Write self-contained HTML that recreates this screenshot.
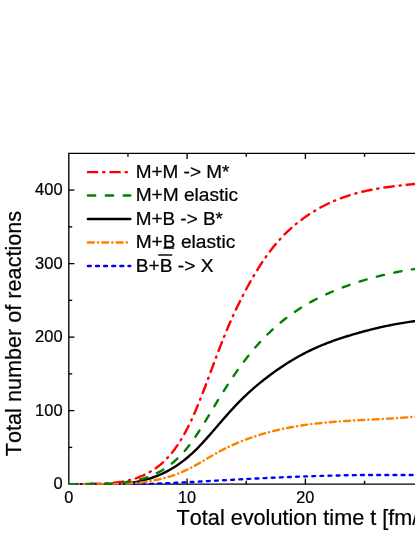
<!DOCTYPE html>
<html><head><meta charset="utf-8"><title>chart</title>
<style>
html,body{margin:0;padding:0;background:#fff;}
body{width:415px;height:537px;overflow:hidden;}
svg{display:block;will-change:transform;}
text{font-family:"Liberation Sans",sans-serif;fill:#000;font-kerning:none;stroke:#000;stroke-width:0.22px;}
.tk{font-size:16.3px;}
.lg{font-size:18.4px;}
.ti{font-size:21.65px;}
</style></head><body>
<svg width="415" height="537" viewBox="0 0 415 537">
<rect width="415" height="537" fill="#fff"/>

<g stroke="#000" stroke-width="1.35" fill="none">
<path d="M420 153.35 H68.8 V484.15 H420"/>
<line x1="68.8" y1="447.39" x2="72.2" y2="447.39"/><line x1="68.8" y1="410.63" x2="74.39999999999999" y2="410.63"/><line x1="68.8" y1="373.87" x2="72.2" y2="373.87"/><line x1="68.8" y1="337.11" x2="74.39999999999999" y2="337.11"/><line x1="68.8" y1="300.35" x2="72.2" y2="300.35"/><line x1="68.8" y1="263.59" x2="74.39999999999999" y2="263.59"/><line x1="68.8" y1="226.83" x2="72.2" y2="226.83"/><line x1="68.8" y1="190.07" x2="74.39999999999999" y2="190.07"/><line x1="127.95" y1="484.15" x2="127.95" y2="480.75"/><line x1="127.95" y1="153.35" x2="127.95" y2="156.75"/><line x1="187.10" y1="484.15" x2="187.10" y2="478.54999999999995"/><line x1="187.10" y1="153.35" x2="187.10" y2="158.95"/><line x1="246.25" y1="484.15" x2="246.25" y2="480.75"/><line x1="246.25" y1="153.35" x2="246.25" y2="156.75"/><line x1="305.40" y1="484.15" x2="305.40" y2="478.54999999999995"/><line x1="305.40" y1="153.35" x2="305.40" y2="158.95"/><line x1="364.55" y1="484.15" x2="364.55" y2="480.75"/><line x1="364.55" y1="153.35" x2="364.55" y2="156.75"/>
</g>
<defs><clipPath id="cp"><rect x="68.1" y="150" width="360" height="334.85"/></clipPath></defs>
<g fill="none" stroke-width="2.4" stroke-linejoin="round" stroke-linecap="round" clip-path="url(#cp)">
<path d="M68.9 484.15 L70.4 484.15 L71.9 484.15 L73.4 484.15 L74.9 484.15 L76.4 484.11 L77.9 484.05 L79.4 484.00 L80.9 483.96 L82.4 483.93 L83.9 483.90 L85.4 483.87 L86.9 483.85 L88.4 483.83 L89.9 483.81 L91.4 483.79 L92.9 483.77 L94.4 483.75 L95.9 483.72 L97.4 483.69 L98.9 483.66 L100.4 483.62 L101.9 483.57 L103.4 483.51 L104.9 483.45 L106.4 483.37 L107.9 483.29 L109.4 483.19 L110.9 483.07 L112.4 482.95 L113.9 482.80 L115.4 482.64 L116.9 482.47 L118.4 482.27 L119.9 482.06 L121.4 481.82 L122.9 481.56 L124.4 481.28 L125.9 480.98 L127.4 480.65 L128.9 480.29 L130.4 479.91 L131.9 479.50 L133.4 479.06 L134.9 478.59 L136.4 478.09 L137.9 477.55 L139.4 476.98 L140.9 476.38 L142.4 475.75 L143.9 475.07 L145.4 474.36 L146.9 473.61 L148.4 472.82 L149.9 471.98 L151.4 471.09 L152.9 470.16 L154.4 469.17 L155.9 468.12 L157.4 467.02 L158.9 465.86 L160.4 464.63 L161.9 463.33 L163.4 461.96 L164.9 460.52 L166.4 459.01 L167.9 457.42 L169.4 455.74 L170.9 453.98 L172.4 452.14 L173.9 450.20 L175.4 448.18 L176.9 446.05 L178.4 443.83 L179.9 441.51 L181.4 439.09 L182.9 436.55 L184.4 433.92 L185.9 431.17 L187.4 428.31 L188.9 425.34 L190.4 422.26 L191.9 419.07 L193.4 415.77 L194.9 412.36 L196.4 408.84 L197.9 405.23 L199.4 401.53 L200.9 397.76 L202.4 393.91 L203.9 390.00 L205.4 386.04 L206.9 382.04 L208.4 378.02 L209.9 373.98 L211.4 369.94 L212.9 365.91 L214.4 361.89 L215.9 357.89 L217.4 353.92 L218.9 349.99 L220.4 346.10 L221.9 342.26 L223.4 338.47 L224.9 334.75 L226.4 331.09 L227.9 327.50 L229.4 324.00 L230.9 320.57 L232.4 317.21 L233.9 313.93 L235.4 310.72 L236.9 307.57 L238.4 304.47 L239.9 301.44 L241.4 298.45 L242.9 295.51 L244.4 292.63 L245.9 289.79 L247.4 287.00 L248.9 284.27 L250.4 281.58 L251.9 278.95 L253.4 276.36 L254.9 273.83 L256.4 271.35 L257.9 268.93 L259.4 266.55 L260.9 264.23 L262.4 261.96 L263.9 259.74 L265.4 257.57 L266.9 255.46 L268.4 253.40 L269.9 251.40 L271.4 249.45 L272.9 247.55 L274.4 245.70 L275.9 243.91 L277.4 242.16 L278.9 240.46 L280.4 238.80 L281.9 237.19 L283.4 235.63 L284.9 234.11 L286.4 232.63 L287.9 231.18 L289.4 229.78 L290.9 228.42 L292.4 227.09 L293.9 225.80 L295.4 224.54 L296.9 223.31 L298.4 222.12 L299.9 220.95 L301.4 219.82 L302.9 218.71 L304.4 217.63 L305.9 216.57 L307.4 215.54 L308.9 214.54 L310.4 213.55 L311.9 212.60 L313.4 211.66 L314.9 210.75 L316.4 209.86 L317.9 208.99 L319.4 208.14 L320.9 207.32 L322.4 206.52 L323.9 205.73 L325.4 204.97 L326.9 204.23 L328.4 203.51 L329.9 202.81 L331.4 202.12 L332.9 201.46 L334.4 200.81 L335.9 200.19 L337.4 199.58 L338.9 198.98 L340.4 198.41 L341.9 197.85 L343.4 197.31 L344.9 196.78 L346.4 196.27 L347.9 195.77 L349.4 195.29 L350.9 194.83 L352.4 194.38 L353.9 193.94 L355.4 193.52 L356.9 193.11 L358.4 192.71 L359.9 192.33 L361.4 191.95 L362.9 191.59 L364.4 191.25 L365.9 190.91 L367.4 190.58 L368.9 190.27 L370.4 189.96 L371.9 189.67 L373.4 189.38 L374.9 189.10 L376.4 188.84 L377.9 188.58 L379.4 188.33 L380.9 188.08 L382.4 187.85 L383.9 187.62 L385.4 187.40 L386.9 187.19 L388.4 186.98 L389.9 186.77 L391.4 186.58 L392.9 186.38 L394.4 186.20 L395.9 186.01 L397.4 185.84 L398.9 185.66 L400.4 185.49 L401.9 185.32 L403.4 185.16 L404.9 184.99 L406.4 184.83 L407.9 184.67 L409.4 184.51 L410.9 184.36 L412.4 184.20 L413.9 184.05 L415.4 183.89 L416.9 183.73 L418.4 183.58 L419.9 183.42 L421.4 183.27 L422.9 183.14" stroke="#ff0000" stroke-dasharray="9.4 5.87 1.2 6.0"/>
<path d="M68.9 484.15 L70.4 484.15 L71.9 484.15 L73.4 484.15 L74.9 484.15 L76.4 484.15 L77.9 484.15 L79.4 484.15 L80.9 484.15 L82.4 484.15 L83.9 484.15 L85.4 484.15 L86.9 484.15 L88.4 484.15 L89.9 484.15 L91.4 484.15 L92.9 484.15 L94.4 484.15 L95.9 484.15 L97.4 484.15 L98.9 484.15 L100.4 484.15 L101.9 484.15 L103.4 484.15 L104.9 484.15 L106.4 484.15 L107.9 484.15 L109.4 484.15 L110.9 484.15 L112.4 484.15 L113.9 484.15 L115.4 484.15 L116.9 484.15 L118.4 484.15 L119.9 484.08 L121.4 483.96 L122.9 483.82 L124.4 483.67 L125.9 483.51 L127.4 483.33 L128.9 483.13 L130.4 482.92 L131.9 482.70 L133.4 482.45 L134.9 482.19 L136.4 481.91 L137.9 481.62 L139.4 481.30 L140.9 480.96 L142.4 480.61 L143.9 480.23 L145.4 479.83 L146.9 479.41 L148.4 478.96 L149.9 478.50 L151.4 478.00 L152.9 477.49 L154.4 476.95 L155.9 476.38 L157.4 475.79 L158.9 475.17 L160.4 474.52 L161.9 473.85 L163.4 473.14 L164.9 472.41 L166.4 471.65 L167.9 470.86 L169.4 470.03 L170.9 469.18 L172.4 468.29 L173.9 467.37 L175.4 466.42 L176.9 465.44 L178.4 464.42 L179.9 463.36 L181.4 462.27 L182.9 461.15 L184.4 459.98 L185.9 458.78 L187.4 457.55 L188.9 456.27 L190.4 454.96 L191.9 453.60 L193.4 452.21 L194.9 450.78 L196.4 449.30 L197.9 447.79 L199.4 446.25 L200.9 444.67 L202.4 443.06 L203.9 441.43 L205.4 439.77 L206.9 438.09 L208.4 436.39 L209.9 434.68 L211.4 432.96 L212.9 431.23 L214.4 429.49 L215.9 427.75 L217.4 426.00 L218.9 424.26 L220.4 422.52 L221.9 420.78 L223.4 419.05 L224.9 417.34 L226.4 415.63 L227.9 413.93 L229.4 412.26 L230.9 410.60 L232.4 408.96 L233.9 407.34 L235.4 405.74 L236.9 404.17 L238.4 402.63 L239.9 401.11 L241.4 399.61 L242.9 398.14 L244.4 396.69 L245.9 395.26 L247.4 393.86 L248.9 392.48 L250.4 391.12 L251.9 389.78 L253.4 388.46 L254.9 387.16 L256.4 385.88 L257.9 384.62 L259.4 383.38 L260.9 382.16 L262.4 380.95 L263.9 379.77 L265.4 378.59 L266.9 377.44 L268.4 376.30 L269.9 375.17 L271.4 374.07 L272.9 372.97 L274.4 371.89 L275.9 370.82 L277.4 369.77 L278.9 368.74 L280.4 367.71 L281.9 366.71 L283.4 365.71 L284.9 364.73 L286.4 363.77 L287.9 362.82 L289.4 361.88 L290.9 360.96 L292.4 360.06 L293.9 359.17 L295.4 358.29 L296.9 357.43 L298.4 356.58 L299.9 355.75 L301.4 354.93 L302.9 354.12 L304.4 353.34 L305.9 352.56 L307.4 351.80 L308.9 351.06 L310.4 350.33 L311.9 349.61 L313.4 348.91 L314.9 348.23 L316.4 347.56 L317.9 346.90 L319.4 346.25 L320.9 345.62 L322.4 345.00 L323.9 344.39 L325.4 343.80 L326.9 343.21 L328.4 342.64 L329.9 342.08 L331.4 341.52 L332.9 340.98 L334.4 340.45 L335.9 339.92 L337.4 339.41 L338.9 338.90 L340.4 338.40 L341.9 337.91 L343.4 337.43 L344.9 336.95 L346.4 336.48 L347.9 336.02 L349.4 335.56 L350.9 335.10 L352.4 334.66 L353.9 334.21 L355.4 333.78 L356.9 333.34 L358.4 332.92 L359.9 332.50 L361.4 332.08 L362.9 331.67 L364.4 331.26 L365.9 330.87 L367.4 330.47 L368.9 330.08 L370.4 329.70 L371.9 329.33 L373.4 328.95 L374.9 328.59 L376.4 328.23 L377.9 327.88 L379.4 327.53 L380.9 327.19 L382.4 326.85 L383.9 326.53 L385.4 326.20 L386.9 325.89 L388.4 325.57 L389.9 325.27 L391.4 324.97 L392.9 324.68 L394.4 324.39 L395.9 324.12 L397.4 323.84 L398.9 323.58 L400.4 323.32 L401.9 323.06 L403.4 322.82 L404.9 322.58 L406.4 322.34 L407.9 322.12 L409.4 321.90 L410.9 321.68 L412.4 321.48 L413.9 321.28 L415.4 321.09 L416.9 320.90 L418.4 320.72 L419.9 320.55 L421.4 320.40 L422.9 320.27" stroke="#000000"/>
<path d="M68.9 484.15 L70.4 484.15 L71.9 484.15 L73.4 484.15 L74.9 484.15 L76.4 484.15 L77.9 484.15 L79.4 484.15 L80.9 484.15 L82.4 484.15 L83.9 484.15 L85.4 484.15 L86.9 484.15 L88.4 484.15 L89.9 484.15 L91.4 484.15 L92.9 484.15 L94.4 484.15 L95.9 484.15 L97.4 484.15 L98.9 484.15 L100.4 484.15 L101.9 484.15 L103.4 484.15 L104.9 484.15 L106.4 484.15 L107.9 484.15 L109.4 484.15 L110.9 484.15 L112.4 484.15 L113.9 484.15 L115.4 484.15 L116.9 484.15 L118.4 484.15 L119.9 484.15 L121.4 484.15 L122.9 484.15 L124.4 484.15 L125.9 484.15 L127.4 484.15 L128.9 484.15 L130.4 484.15 L131.9 484.15 L133.4 484.15 L134.9 484.15 L136.4 484.15 L137.9 484.15 L139.4 484.15 L140.9 484.15 L142.4 484.15 L143.9 484.11 L145.4 484.06 L146.9 484.00 L148.4 483.95 L149.9 483.89 L151.4 483.84 L152.9 483.78 L154.4 483.72 L155.9 483.66 L157.4 483.60 L158.9 483.54 L160.4 483.47 L161.9 483.41 L163.4 483.34 L164.9 483.28 L166.4 483.21 L167.9 483.14 L169.4 483.07 L170.9 483.01 L172.4 482.94 L173.9 482.86 L175.4 482.79 L176.9 482.72 L178.4 482.65 L179.9 482.57 L181.4 482.50 L182.9 482.42 L184.4 482.35 L185.9 482.27 L187.4 482.19 L188.9 482.12 L190.4 482.04 L191.9 481.96 L193.4 481.88 L194.9 481.80 L196.4 481.72 L197.9 481.64 L199.4 481.56 L200.9 481.48 L202.4 481.40 L203.9 481.32 L205.4 481.24 L206.9 481.16 L208.4 481.08 L209.9 481.00 L211.4 480.91 L212.9 480.83 L214.4 480.75 L215.9 480.67 L217.4 480.59 L218.9 480.50 L220.4 480.42 L221.9 480.34 L223.4 480.26 L224.9 480.18 L226.4 480.09 L227.9 480.01 L229.4 479.93 L230.9 479.85 L232.4 479.77 L233.9 479.69 L235.4 479.61 L236.9 479.53 L238.4 479.45 L239.9 479.37 L241.4 479.29 L242.9 479.21 L244.4 479.13 L245.9 479.06 L247.4 478.98 L248.9 478.90 L250.4 478.83 L251.9 478.75 L253.4 478.67 L254.9 478.60 L256.4 478.52 L257.9 478.45 L259.4 478.38 L260.9 478.30 L262.4 478.23 L263.9 478.16 L265.4 478.09 L266.9 478.02 L268.4 477.94 L269.9 477.87 L271.4 477.81 L272.9 477.74 L274.4 477.67 L275.9 477.60 L277.4 477.53 L278.9 477.47 L280.4 477.40 L281.9 477.34 L283.4 477.27 L284.9 477.21 L286.4 477.15 L287.9 477.08 L289.4 477.02 L290.9 476.96 L292.4 476.90 L293.9 476.84 L295.4 476.78 L296.9 476.72 L298.4 476.67 L299.9 476.61 L301.4 476.55 L302.9 476.50 L304.4 476.45 L305.9 476.39 L307.4 476.34 L308.9 476.29 L310.4 476.24 L311.9 476.19 L313.4 476.14 L314.9 476.09 L316.4 476.04 L317.9 475.99 L319.4 475.95 L320.9 475.90 L322.4 475.86 L323.9 475.82 L325.4 475.77 L326.9 475.73 L328.4 475.69 L329.9 475.65 L331.4 475.62 L332.9 475.58 L334.4 475.54 L335.9 475.51 L337.4 475.47 L338.9 475.44 L340.4 475.41 L341.9 475.37 L343.4 475.34 L344.9 475.32 L346.4 475.29 L347.9 475.26 L349.4 475.23 L350.9 475.21 L352.4 475.19 L353.9 475.16 L355.4 475.14 L356.9 475.12 L358.4 475.10 L359.9 475.08 L361.4 475.07 L362.9 475.05 L364.4 475.04 L365.9 475.02 L367.4 475.01 L368.9 475.00 L370.4 474.99 L371.9 474.98 L373.4 474.97 L374.9 474.97 L376.4 474.96 L377.9 474.96 L379.4 474.96 L380.9 474.96 L382.4 474.96 L383.9 474.96 L385.4 474.96 L386.9 474.96 L388.4 474.96 L389.9 474.96 L391.4 474.96 L392.9 474.96 L394.4 474.96 L395.9 474.96 L397.4 474.96 L398.9 474.96 L400.4 474.96 L401.9 474.96 L403.4 474.96 L404.9 474.96 L406.4 474.96 L407.9 474.96 L409.4 474.96 L410.9 474.96 L412.4 474.96 L413.9 474.96 L415.4 474.96 L416.9 474.96 L418.4 474.96 L419.9 474.96 L421.4 474.96 L422.9 474.96" stroke="#0000ff" stroke-dasharray="2.85 5.27"/>
<path d="M68.9 484.15 L70.4 484.15 L71.9 484.15 L73.4 484.15 L74.9 484.15 L76.4 484.15 L77.9 484.15 L79.4 484.15 L80.9 484.15 L82.4 484.15 L83.9 484.15 L85.4 484.15 L86.9 484.15 L88.4 484.15 L89.9 484.15 L91.4 484.15 L92.9 484.15 L94.4 484.15 L95.9 484.15 L97.4 484.15 L98.9 484.15 L100.4 484.15 L101.9 484.15 L103.4 484.15 L104.9 484.15 L106.4 484.15 L107.9 484.15 L109.4 484.15 L110.9 484.15 L112.4 484.15 L113.9 484.13 L115.4 484.10 L116.9 484.06 L118.4 484.02 L119.9 483.97 L121.4 483.91 L122.9 483.85 L124.4 483.78 L125.9 483.71 L127.4 483.62 L128.9 483.53 L130.4 483.43 L131.9 483.32 L133.4 483.20 L134.9 483.08 L136.4 482.94 L137.9 482.79 L139.4 482.63 L140.9 482.46 L142.4 482.28 L143.9 482.08 L145.4 481.88 L146.9 481.66 L148.4 481.42 L149.9 481.18 L151.4 480.92 L152.9 480.64 L154.4 480.35 L155.9 480.05 L157.4 479.73 L158.9 479.40 L160.4 479.05 L161.9 478.68 L163.4 478.29 L164.9 477.89 L166.4 477.47 L167.9 477.04 L169.4 476.58 L170.9 476.10 L172.4 475.61 L173.9 475.10 L175.4 474.56 L176.9 474.01 L178.4 473.44 L179.9 472.84 L181.4 472.23 L182.9 471.59 L184.4 470.93 L185.9 470.24 L187.4 469.54 L188.9 468.81 L190.4 468.06 L191.9 467.28 L193.4 466.48 L194.9 465.67 L196.4 464.83 L197.9 463.98 L199.4 463.12 L200.9 462.25 L202.4 461.37 L203.9 460.48 L205.4 459.59 L206.9 458.70 L208.4 457.81 L209.9 456.93 L211.4 456.05 L212.9 455.17 L214.4 454.31 L215.9 453.46 L217.4 452.63 L218.9 451.81 L220.4 451.00 L221.9 450.21 L223.4 449.44 L224.9 448.68 L226.4 447.94 L227.9 447.21 L229.4 446.50 L230.9 445.80 L232.4 445.11 L233.9 444.44 L235.4 443.79 L236.9 443.14 L238.4 442.51 L239.9 441.89 L241.4 441.29 L242.9 440.69 L244.4 440.11 L245.9 439.54 L247.4 438.99 L248.9 438.44 L250.4 437.90 L251.9 437.38 L253.4 436.87 L254.9 436.37 L256.4 435.88 L257.9 435.40 L259.4 434.93 L260.9 434.47 L262.4 434.02 L263.9 433.58 L265.4 433.15 L266.9 432.73 L268.4 432.33 L269.9 431.93 L271.4 431.54 L272.9 431.16 L274.4 430.78 L275.9 430.42 L277.4 430.07 L278.9 429.72 L280.4 429.39 L281.9 429.06 L283.4 428.74 L284.9 428.43 L286.4 428.12 L287.9 427.83 L289.4 427.54 L290.9 427.26 L292.4 426.99 L293.9 426.72 L295.4 426.46 L296.9 426.21 L298.4 425.97 L299.9 425.73 L301.4 425.50 L302.9 425.27 L304.4 425.06 L305.9 424.84 L307.4 424.64 L308.9 424.44 L310.4 424.24 L311.9 424.05 L313.4 423.87 L314.9 423.69 L316.4 423.52 L317.9 423.35 L319.4 423.19 L320.9 423.03 L322.4 422.88 L323.9 422.73 L325.4 422.59 L326.9 422.45 L328.4 422.31 L329.9 422.18 L331.4 422.05 L332.9 421.93 L334.4 421.80 L335.9 421.69 L337.4 421.57 L338.9 421.46 L340.4 421.35 L341.9 421.25 L343.4 421.15 L344.9 421.05 L346.4 420.95 L347.9 420.85 L349.4 420.76 L350.9 420.67 L352.4 420.58 L353.9 420.49 L355.4 420.40 L356.9 420.32 L358.4 420.24 L359.9 420.15 L361.4 420.07 L362.9 419.99 L364.4 419.91 L365.9 419.83 L367.4 419.75 L368.9 419.68 L370.4 419.60 L371.9 419.52 L373.4 419.44 L374.9 419.36 L376.4 419.28 L377.9 419.20 L379.4 419.12 L380.9 419.04 L382.4 418.96 L383.9 418.88 L385.4 418.79 L386.9 418.71 L388.4 418.62 L389.9 418.53 L391.4 418.44 L392.9 418.35 L394.4 418.25 L395.9 418.16 L397.4 418.06 L398.9 417.96 L400.4 417.85 L401.9 417.74 L403.4 417.63 L404.9 417.52 L406.4 417.41 L407.9 417.29 L409.4 417.16 L410.9 417.04 L412.4 416.91 L413.9 416.77 L415.4 416.63 L416.9 416.49 L418.4 416.34 L419.9 416.19 L421.4 416.05 L422.9 415.92" stroke="#ff8000" stroke-dasharray="6.05 3.93 0.3 4.05"/>
<path d="M68.9 484.15 L70.4 484.15 L71.9 484.15 L73.4 484.15 L74.9 484.15 L76.4 484.15 L77.9 484.11 L79.4 484.07 L80.9 484.03 L82.4 484.00 L83.9 483.98 L85.4 483.96 L86.9 483.94 L88.4 483.93 L89.9 483.92 L91.4 483.91 L92.9 483.90 L94.4 483.89 L95.9 483.88 L97.4 483.87 L98.9 483.85 L100.4 483.83 L101.9 483.81 L103.4 483.78 L104.9 483.75 L106.4 483.71 L107.9 483.67 L109.4 483.61 L110.9 483.55 L112.4 483.48 L113.9 483.40 L115.4 483.30 L116.9 483.20 L118.4 483.08 L119.9 482.95 L121.4 482.80 L122.9 482.64 L124.4 482.46 L125.9 482.27 L127.4 482.05 L128.9 481.83 L130.4 481.58 L131.9 481.31 L133.4 481.02 L134.9 480.71 L136.4 480.38 L137.9 480.02 L139.4 479.64 L140.9 479.24 L142.4 478.81 L143.9 478.35 L145.4 477.87 L146.9 477.36 L148.4 476.82 L149.9 476.25 L151.4 475.65 L152.9 475.02 L154.4 474.35 L155.9 473.64 L157.4 472.90 L158.9 472.12 L160.4 471.30 L161.9 470.43 L163.4 469.52 L164.9 468.57 L166.4 467.56 L167.9 466.51 L169.4 465.41 L170.9 464.25 L172.4 463.05 L173.9 461.78 L175.4 460.46 L176.9 459.08 L178.4 457.64 L179.9 456.14 L181.4 454.58 L182.9 452.95 L184.4 451.25 L185.9 449.49 L187.4 447.65 L188.9 445.75 L190.4 443.77 L191.9 441.73 L193.4 439.63 L194.9 437.46 L196.4 435.24 L197.9 432.97 L199.4 430.66 L200.9 428.30 L202.4 425.91 L203.9 423.50 L205.4 421.05 L206.9 418.59 L208.4 416.11 L209.9 413.62 L211.4 411.12 L212.9 408.62 L214.4 406.13 L215.9 403.65 L217.4 401.18 L218.9 398.72 L220.4 396.29 L221.9 393.88 L223.4 391.49 L224.9 389.13 L226.4 386.79 L227.9 384.48 L229.4 382.19 L230.9 379.93 L232.4 377.70 L233.9 375.50 L235.4 373.32 L236.9 371.17 L238.4 369.05 L239.9 366.97 L241.4 364.91 L242.9 362.89 L244.4 360.90 L245.9 358.94 L247.4 357.01 L248.9 355.12 L250.4 353.26 L251.9 351.44 L253.4 349.65 L254.9 347.89 L256.4 346.17 L257.9 344.48 L259.4 342.82 L260.9 341.19 L262.4 339.59 L263.9 338.03 L265.4 336.49 L266.9 334.98 L268.4 333.51 L269.9 332.06 L271.4 330.64 L272.9 329.25 L274.4 327.88 L275.9 326.54 L277.4 325.23 L278.9 323.95 L280.4 322.69 L281.9 321.46 L283.4 320.25 L284.9 319.06 L286.4 317.90 L287.9 316.76 L289.4 315.65 L290.9 314.56 L292.4 313.49 L293.9 312.44 L295.4 311.41 L296.9 310.41 L298.4 309.42 L299.9 308.46 L301.4 307.51 L302.9 306.59 L304.4 305.68 L305.9 304.79 L307.4 303.92 L308.9 303.06 L310.4 302.22 L311.9 301.40 L313.4 300.60 L314.9 299.81 L316.4 299.03 L317.9 298.27 L319.4 297.53 L320.9 296.79 L322.4 296.08 L323.9 295.37 L325.4 294.68 L326.9 293.99 L328.4 293.32 L329.9 292.67 L331.4 292.02 L332.9 291.38 L334.4 290.75 L335.9 290.13 L337.4 289.52 L338.9 288.92 L340.4 288.33 L341.9 287.75 L343.4 287.18 L344.9 286.62 L346.4 286.06 L347.9 285.52 L349.4 284.98 L350.9 284.45 L352.4 283.94 L353.9 283.43 L355.4 282.92 L356.9 282.43 L358.4 281.94 L359.9 281.47 L361.4 281.00 L362.9 280.54 L364.4 280.09 L365.9 279.64 L367.4 279.20 L368.9 278.78 L370.4 278.35 L371.9 277.94 L373.4 277.53 L374.9 277.13 L376.4 276.74 L377.9 276.36 L379.4 275.98 L380.9 275.61 L382.4 275.25 L383.9 274.89 L385.4 274.54 L386.9 274.20 L388.4 273.86 L389.9 273.53 L391.4 273.21 L392.9 272.89 L394.4 272.58 L395.9 272.28 L397.4 271.98 L398.9 271.69 L400.4 271.41 L401.9 271.13 L403.4 270.85 L404.9 270.59 L406.4 270.32 L407.9 270.07 L409.4 269.82 L410.9 269.57 L412.4 269.33 L413.9 269.10 L415.4 268.87 L416.9 268.64 L418.4 268.42 L419.9 268.21 L421.4 268.01 L422.9 267.84" stroke="#008000" stroke-dasharray="7.35 10.55"/>
</g>
<g class="tk"><text transform="translate(62.6 489.45) scale(1.012 1)" text-anchor="end">0</text><text transform="translate(62.6 415.93) scale(1.012 1)" text-anchor="end">100</text><text transform="translate(62.6 342.41) scale(1.012 1)" text-anchor="end">200</text><text transform="translate(62.6 268.89) scale(1.012 1)" text-anchor="end">300</text><text transform="translate(62.6 195.37) scale(1.012 1)" text-anchor="end">400</text><text transform="translate(68.70 503.1) scale(1.0 1)" text-anchor="middle">0</text><text transform="translate(187.00 503.1) scale(1.0 1)" text-anchor="middle">10</text><text transform="translate(305.30 503.1) scale(1.0 1)" text-anchor="middle">20</text></g>
<line x1="87.9" y1="172.15" x2="130.3" y2="172.15" stroke="#ff0000" stroke-width="2.4" stroke-linecap="round" stroke-dasharray="9.4 5.87 1.2 6.0"/>
<text transform="translate(135.65 177.90) scale(1.0316 1)" class="lg">M+M -&gt; M*</text>
<line x1="87.9" y1="195.55" x2="130.3" y2="195.55" stroke="#008000" stroke-width="2.4" stroke-linecap="round" stroke-dasharray="7.35 10.55"/>
<text transform="translate(135.65 201.30) scale(1.0396 1)" class="lg">M+M elastic</text>
<line x1="87.9" y1="218.95" x2="130.3" y2="218.95" stroke="#000000" stroke-width="2.4" stroke-linecap="round"/>
<text transform="translate(135.65 224.70) scale(1.029 1)" class="lg">M+B -&gt; B*</text>
<line x1="87.9" y1="242.5" x2="130.3" y2="242.5" stroke="#ff8000" stroke-width="2.4" stroke-linecap="round" stroke-dasharray="6.05 3.93 0.3 4.05"/>
<text transform="translate(135.65 248.25) scale(1.0425 1)" class="lg">M+B elastic</text>
<line x1="87.9" y1="265.95" x2="130.3" y2="265.95" stroke="#0000ff" stroke-width="2.4" stroke-linecap="round" stroke-dasharray="2.85 5.27"/>
<text transform="translate(135.65 271.70) scale(1.043 1)" class="lg">B+B -&gt; X</text>

<line x1="163.4" y1="248.1" x2="174.2" y2="248.1" stroke="#000" stroke-width="1.3"/>
<line x1="158.2" y1="255.0" x2="172.2" y2="255.0" stroke="#000" stroke-width="1.45"/>
<text class="ti" transform="translate(176.6 524.9)">Total evolution time t [fm/c]</text>
<text class="ti" transform="translate(20.9 456.2) rotate(-90)">Total number of reactions</text>
</svg>
</body></html>
